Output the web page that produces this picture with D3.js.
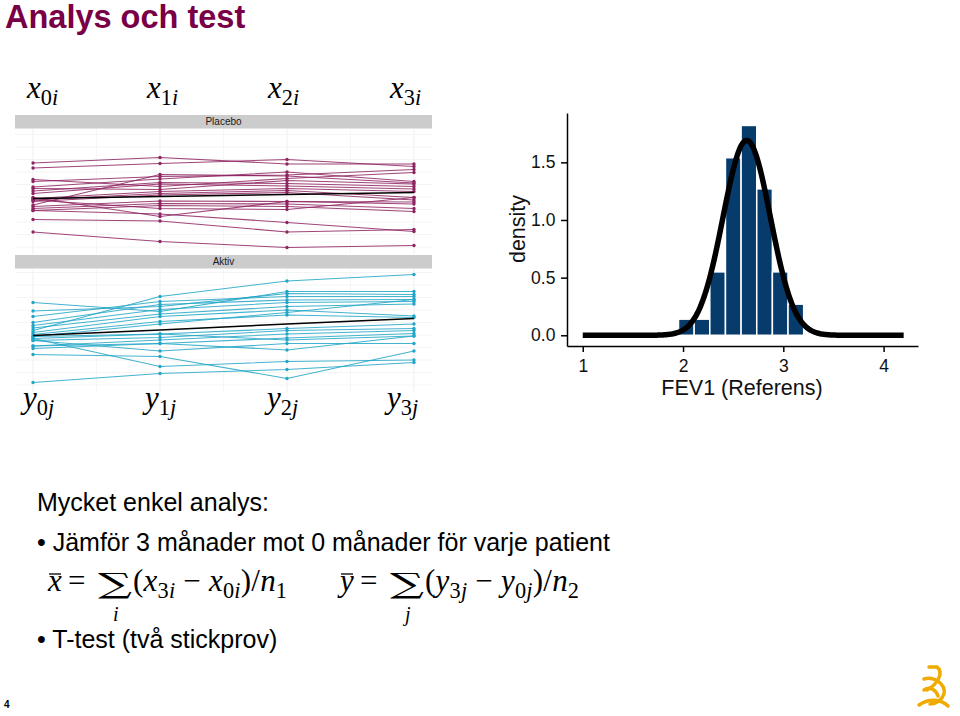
<!DOCTYPE html>
<html><head><meta charset="utf-8">
<script src="https://cdn.jsdelivr.net/npm/d3@7"></script>
<style>body{margin:0;background:#fff} svg{display:block}</style>
</head><body>
<svg id="c" width="960" height="716"></svg>
<script>
// ---------------- DATA ----------------
const timepoints = [0, 1, 2, 3];
const panelNames = ["Placebo", "Aktiv"];
const placebo = [
  [3.18, 3.29, 3.16, 3.16],
  [3.08, 3.17, 3.25, 3.11],
  [2.85, 2.71, 2.87, 2.99],
  [2.81, 2.91, 2.94, 3.05],
  [2.70, 2.86, 3.00, 2.81],
  [2.67, 2.65, 2.83, 2.76],
  [2.62, 2.79, 2.77, 2.71],
  [2.57, 2.76, 2.72, 2.66],
  [2.47, 2.61, 2.67, 2.61],
  [2.44, 2.57, 2.63, 2.49],
  [2.41, 2.54, 2.59, 2.44],
  [2.34, 2.95, 2.92, 2.78],
  [2.31, 2.42, 2.41, 2.40],
  [2.27, 2.37, 2.36, 2.27],
  [2.23, 2.33, 2.31, 2.21],
  [2.44, 2.27, 2.25, 2.49],
  [2.05, 2.02, 1.80, 1.85],
  [2.23, 2.16, 1.99, 1.81],
  [1.80, 1.61, 1.49, 1.53],
  [2.49, 2.11, 2.41, 2.36]
];
const aktiv = [
  [2.59, 3.27, 3.58, 3.71],
  [3.15, 2.97, 3.37, 3.37],
  [2.98, 3.07, 3.33, 3.31],
  [2.87, 3.17, 3.27, 3.27],
  [2.75, 3.11, 3.20, 3.21],
  [2.69, 3.01, 3.15, 3.17],
  [2.64, 2.92, 3.07, 3.12],
  [2.55, 2.87, 3.00, 2.88],
  [2.51, 2.77, 2.90, 2.85],
  [2.47, 2.72, 2.95, 3.21],
  [2.43, 2.52, 2.63, 2.72],
  [2.39, 2.45, 2.59, 2.63],
  [2.28, 2.40, 2.52, 2.59],
  [2.23, 2.33, 2.44, 2.53],
  [2.47, 2.52, 2.40, 2.48],
  [2.39, 2.18, 2.33, 2.33],
  [2.11, 2.07, 1.63, 2.18],
  [1.55, 1.73, 1.81, 1.95],
  [2.43, 1.87, 1.97, 2.00],
  [2.28, 2.33, 2.20, 2.48]
];
const placeboMean = [2.47, 2.51, 2.55, 2.59];
const aktivMean = [2.49, 2.60, 2.72, 2.83];

const binEdges = [1.955, 2.111, 2.267, 2.423, 2.579, 2.735, 2.891, 3.047, 3.203];
const binDensity = [0.14, 0.14, 0.55, 1.54, 1.82, 1.27, 0.55, 0.27];
const fitMean = 2.635;
const fitSd = 0.236;
const fitRange = [1.0, 4.2];
const histXTicks = [1, 2, 3, 4];
const histYTicks = [0, 0.5, 1.0, 1.5];
const histXTitle = "FEV1 (Referens)";
const histYTitle = "density";

// ---------------- DRAW ----------------
const svg = d3.select("#c");
const SANS = "'Liberation Sans', Arial, sans-serif";
const SERIF = "'Liberation Serif', 'Times New Roman', serif";

// Title
svg.append("text").attr("x", 5).attr("y", 28)
  .attr("font-family", SANS).attr("font-weight", "bold").attr("font-size", 32.5)
  .attr("fill", "#790046").text("Analys och test");

// ---- left facet panels ----
const px = d3.scaleLinear().domain([-0.142, 3.142]).range([15, 432]);
const panels = [
  {name: panelNames[0], data: placebo, mean: placeboMean, stripTop: 115, bottom: 252, color: "#8e2461"},
  {name: panelNames[1], data: aktiv, mean: aktivMean, stripTop: 255, bottom: 390, color: "#22a6c7"}
];
panels.forEach(p => {
  const y = d3.scaleLinear().domain([1.4, 3.84]).range([p.bottom, p.bottom - 122]);
  const g = svg.append("g");
  const top = p.stripTop + 14, bot = p.bottom + 2;
  d3.range(0, 3.01, 0.5).forEach(t => {
    g.append("line").attr("x1", px(t)).attr("x2", px(t)).attr("y1", top).attr("y2", bot)
      .attr("stroke", t % 1 === 0 ? "#efefef" : "#f6f6f6").attr("stroke-width", 1);
  });
  d3.range(1.5, 3.81, 0.25).forEach(t => {
    g.append("line").attr("x1", 15).attr("x2", 432).attr("y1", y(t)).attr("y2", y(t))
      .attr("stroke", "#f4f4f4").attr("stroke-width", 1);
  });
  g.append("rect").attr("x", 15).attr("y", p.stripTop).attr("width", 417).attr("height", 13.5)
    .attr("fill", "#cccccc");
  g.append("text").attr("x", 223.5).attr("y", p.stripTop + 10.3).attr("text-anchor", "middle")
    .attr("font-family", SANS).attr("font-size", 10).attr("fill", "#1a1a1a").text(p.name);
  const line = d3.line().x((d, i) => px(timepoints[i])).y(d => y(d));
  p.data.forEach(s => {
    g.append("path").attr("d", line(s)).attr("fill", "none")
      .attr("stroke", p.color).attr("stroke-width", 1.1).attr("stroke-opacity", 0.85);
    g.selectAll(null).data(s).enter().append("circle")
      .attr("cx", (d, i) => px(timepoints[i])).attr("cy", d => y(d)).attr("r", 1.7)
      .attr("fill", p.color);
  });
  g.append("path").attr("d", line(p.mean)).attr("fill", "none")
    .attr("stroke", "#000").attr("stroke-width", 1.6);
});

// math text helper
function mathText(x, y, size, segs, len) {
  const t = svg.append("text").attr("x", x).attr("y", y)
    .attr("font-family", SERIF).attr("font-size", size).attr("fill", "#000");
  if (len) t.attr("textLength", len).attr("lengthAdjust", "spacing");
  let shift = 0;
  segs.forEach(s => {
    const [str, ital, sub] = s;
    const target = sub ? size * 0.22 : 0;
    const ts = t.append("tspan").text(str)
      .attr("font-style", ital ? "italic" : "normal")
      .attr("font-size", sub ? size * 0.72 : size);
    if (target !== shift) { ts.attr("dy", target - shift); shift = target; }
  });
  return t;
}
const topLabelX = [27, 147, 268, 390];
const botLabelX = [23, 145, 267, 387];
timepoints.forEach((tp, i) => {
  mathText(topLabelX[i], 98, 31, [["x", true, false], [String(tp), false, true], ["i", true, true]]);
  mathText(botLabelX[i], 408, 31, [["y", true, false], [String(tp), false, true], ["j", true, true]]);
});

// ---- histogram ----
const hx = d3.scaleLinear().domain([0.843, 4.343]).range([567, 918]);
const hy = d3.scaleLinear().domain([-0.093, 1.928]).range([346, 113]);
const hg = svg.append("g");
binDensity.forEach((d, i) => {
  hg.append("rect").attr("x", hx(binEdges[i])).attr("y", hy(d))
    .attr("width", hx(binEdges[i + 1]) - hx(binEdges[i])).attr("height", hy(0) - hy(d))
    .attr("fill", "#063b6c").attr("stroke", "#fff").attr("stroke-width", 1.5);
});
const curvePts = d3.range(fitRange[0], fitRange[1] + 0.0001, 0.01)
  .map(v => [v, Math.exp(-0.5 * ((v - fitMean) / fitSd) ** 2) / (fitSd * Math.sqrt(2 * Math.PI))]);
hg.append("path").attr("d", d3.line().x(d => hx(d[0])).y(d => hy(d[1]))(curvePts))
  .attr("fill", "none").attr("stroke", "#000").attr("stroke-width", 5.5);

const xAxis = d3.axisBottom(hx).tickValues(histXTicks).tickFormat(d3.format("d")).tickSize(6).tickSizeOuter(0);
const yAxis = d3.axisLeft(hy).tickValues(histYTicks).tickFormat(d3.format(".1f")).tickSize(6).tickSizeOuter(0);
const xa = hg.append("g").attr("transform", "translate(0,346)").call(xAxis);
const ya = hg.append("g").attr("transform", "translate(567,0)").call(yAxis);
[xa, ya].forEach(a => {
  a.select(".domain").attr("stroke", "#000").attr("stroke-width", 1.5);
  a.selectAll(".tick line").attr("stroke", "#000").attr("stroke-width", 1.5);
  a.selectAll(".tick text").attr("font-family", SANS).attr("font-size", 17.5).attr("fill", "#111");
});
xa.selectAll(".tick text").attr("dy", "0.98em");
ya.selectAll(".tick text").attr("dx", "-0.15em");
hg.append("text").attr("x", 742).attr("y", 395).attr("text-anchor", "middle")
  .attr("font-family", SANS).attr("font-size", 21.5).attr("fill", "#111").text(histXTitle);
hg.append("text").attr("transform", "translate(525,229) rotate(-90)").attr("text-anchor", "middle")
  .attr("font-family", SANS).attr("font-size", 21.5).attr("fill", "#111").text(histYTitle);

// ---- body text ----
svg.append("text").attr("x", 37).attr("y", 511).attr("font-family", SANS).attr("font-size", 25)
  .text("Mycket enkel analys:");
svg.append("text").attr("x", 37).attr("y", 551).attr("font-family", SANS).attr("font-size", 25)
  .text("• Jämför 3 månader mot 0 månader för varje patient");
svg.append("text").attr("x", 37).attr("y", 648).attr("font-family", SANS).attr("font-size", 25)
  .text("• T-test (två stickprov)");

// formulas
function formula(x0, bar, idx, n) {
  const fs = 31;
  mathText(x0, 591, fs, [[bar, true, false]]);
  svg.append("line").attr("x1", x0 + 1).attr("x2", x0 + 13).attr("y1", 574).attr("y2", 574)
    .attr("stroke", "#000").attr("stroke-width", 1.3);
  mathText(x0 + 20, 591, fs, [["=", false, false]]);
  svg.append("text").attr("x", x0 + 50).attr("y", 593).attr("font-family", "'DejaVu Serif', serif")
    .attr("font-size", 28).attr("textLength", 34).attr("lengthAdjust", "spacingAndGlyphs").text("\u2211");
  mathText(x0 + 65, 621, 20, [[idx, true, false]]);
  mathText(x0 + 85, 591, fs, [["(", false, false], [bar, true, false], ["3", false, true], [idx, true, true],
    [" \u2212 ", false, false], [bar, true, false], ["0", false, true], [idx, true, true],
    [")/", false, false], ["n", true, false], [n, false, true]], 154);
}
formula(48, "x", "i", "1");
formula(340, "y", "j", "2");

// page number
svg.append("text").attr("x", 4).attr("y", 708).attr("font-family", SANS).attr("font-weight", "bold")
  .attr("font-size", 10).text("4");

// logo
const logo = svg.append("g").attr("fill", "none").attr("stroke", "#f0ab00").attr("stroke-width", 3.5)
  .attr("stroke-linecap", "round").attr("stroke-linejoin", "round");
logo.append("path").attr("d", "M929,667 L937,667 C944,672 938,684 927,690");
logo.append("path").attr("d", "M924,679 C934,676 946,684 944,694 C942,700 936,704 930,704");
logo.append("path").attr("d", "M919,705 C930,697 942,700 948,706");
logo.append("path").attr("d", "M924,690 C930,686 936,690 938,696");
</script>
</body></html>
